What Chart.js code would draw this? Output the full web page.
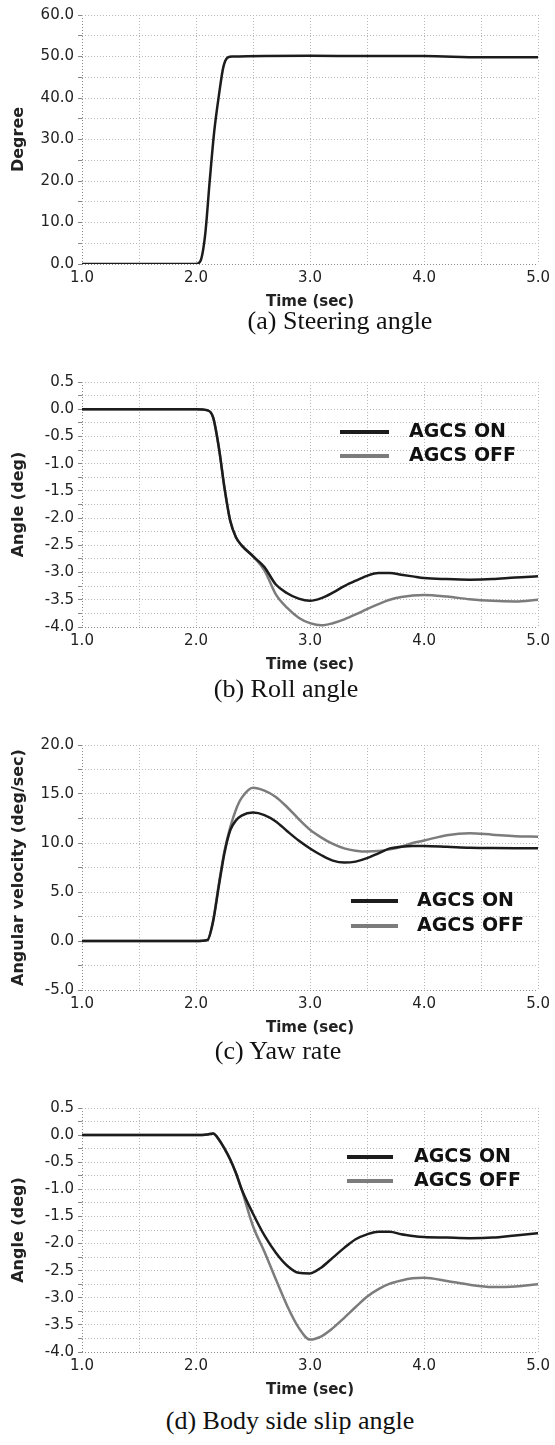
<!DOCTYPE html>
<html lang="en">
<head>
<meta charset="UTF-8">
<title>AGCS vehicle response</title>
<script src="https://cdn.jsdelivr.net/npm/chart.js"></script>
<style>
  body { margin: 0; background: #fff; width: 555px; height: 1445px; position: relative; overflow: hidden; }
  .panel { position: absolute; left: 0; width: 555px; }
  .caption {
    position: absolute;
    font-family: 'Liberation Serif', 'Times New Roman', serif;
    font-size: 26px;
    line-height: 30px;
    color: #111;
    white-space: nowrap;
    transform: translateX(-50%);
  }
</style>
</head>
<body>
<div class="panel" style="top:0px"><canvas id="chartA" width="555" height="314"></canvas></div>
<div class="caption" style="left:340px;top:306px">(a) Steering angle</div>

<div class="panel" style="top:350px"><canvas id="chartB" width="555" height="327"></canvas></div>
<div class="caption" style="left:286px;top:674px">(b) Roll angle</div>

<div class="panel" style="top:715px"><canvas id="chartC" width="555" height="325"></canvas></div>
<div class="caption" style="left:278px;top:1036px">(c) Yaw rate</div>

<div class="panel" style="top:1078px"><canvas id="chartD" width="555" height="324"></canvas></div>
<div class="caption" style="left:290px;top:1406px">(d) Body side slip angle</div>

<script>
// (a) steering input
const steerTime  = [1.0, 1.5, 2.0, 2.04, 2.08, 2.12, 2.16, 2.2, 2.24, 2.28, 2.32, 3.0, 3.5, 4.0, 4.5, 5.0];
const steerAngle = [0, 0, 0, 0.8, 7, 20, 32, 40.5, 47.5, 49.8, 50, 50.2, 50.1, 50.1, 49.8, 49.8];

// (b)-(d) share one time base
const simTime = [1.0, 1.5, 2.0, 2.1, 2.15, 2.2, 2.25, 2.3, 2.35, 2.4, 2.5,
                 2.6, 2.7, 2.8, 2.9, 3.0, 3.1, 3.2, 3.3, 3.4, 3.5,
                 3.6, 3.7, 3.8, 3.9, 4.0, 4.2, 4.4, 4.6, 4.8, 5.0];

const rollOn  = [0, 0, 0, -0.02, -0.15, -0.7, -1.45, -2.05, -2.35, -2.5, -2.7,
                 -2.9, -3.22, -3.38, -3.48, -3.52, -3.47, -3.37, -3.25, -3.15, -3.06,
                 -3.01, -3.01, -3.04, -3.07, -3.1, -3.12, -3.13, -3.12, -3.09, -3.07];
const rollOff = [0, 0, 0, -0.02, -0.15, -0.7, -1.45, -2.05, -2.35, -2.5, -2.7,
                 -2.96, -3.4, -3.65, -3.83, -3.93, -3.97, -3.93, -3.86, -3.77, -3.67,
                 -3.58, -3.5, -3.45, -3.42, -3.41, -3.44, -3.49, -3.52, -3.53, -3.5];

const yawOn  = [0, 0, 0, 0.1, 2.0, 5.6, 9.0, 11.3, 12.3, 12.8, 13.1,
                12.85, 12.2, 11.2, 10.25, 9.44, 8.75, 8.2, 8.0, 8.1, 8.45,
                8.95, 9.45, 9.62, 9.7, 9.7, 9.62, 9.52, 9.48, 9.47, 9.47];
const yawOff = [0, 0, 0, 0.1, 2.1, 5.8, 9.2, 11.6, 13.4, 14.6, 15.65,
                15.35, 14.7, 13.65, 12.45, 11.35, 10.55, 9.9, 9.45, 9.22, 9.13,
                9.18, 9.35, 9.62, 10.0, 10.25, 10.8, 11.0, 10.85, 10.7, 10.65];

const slipOn  = [0, 0, 0, 0.01, 0.03, -0.08, -0.25, -0.45, -0.7, -1.0, -1.45,
                 -1.85, -2.17, -2.41, -2.54, -2.55, -2.44, -2.26, -2.08, -1.92, -1.83,
                 -1.78, -1.78, -1.83, -1.86, -1.88, -1.89, -1.9, -1.89, -1.85, -1.81];
const slipOff = [0, 0, 0, 0.01, 0.03, -0.08, -0.25, -0.45, -0.7, -1.0, -1.68,
                 -2.15, -2.66, -3.15, -3.55, -3.77, -3.71, -3.56, -3.37, -3.17, -2.98,
                 -2.84, -2.74, -2.68, -2.64, -2.63, -2.69, -2.76, -2.8, -2.79, -2.75];

const labelOn = 'AGCS ON';
const labelOff = 'AGCS OFF';
const colorOn = '#1c1c1c';
const colorOff = '#7c7c7c';

Chart.defaults.font.family = '"DejaVu Sans", sans-serif';
Chart.defaults.color = '#222';

// legend drawn inside the plot area, like the original figure
const insideLegend = {
  id: 'insideLegend',
  afterDatasetsDraw(chart, args, opts) {
    if (!opts.show) return;
    const { ctx, chartArea } = chart;
    ctx.save();
    ctx.font = 'bold 19px "DejaVu Sans"';
    ctx.textBaseline = 'middle';
    chart.data.datasets.forEach((ds, i) => {
      const x = chartArea.left + opts.left;
      const y = chartArea.top + opts.top + i * opts.gap;
      ctx.strokeStyle = ds.borderColor;
      ctx.lineWidth = 4;
      ctx.beginPath();
      ctx.moveTo(x, y);
      ctx.lineTo(x + opts.length, y);
      ctx.stroke();
      ctx.fillStyle = '#111';
      ctx.fillText(ds.label, x + opts.length + opts.space, y);
    });
    ctx.restore();
  }
};

function isMajor(v, major) {
  return Math.abs(v / major - Math.round(v / major)) < 1e-6;
}

function makeChart(id, cfg) {
  const datasets = cfg.series.map(s => ({
    label: s.label,
    data: cfg.time.map((t, i) => ({ x: t, y: s.values[i] })),
    borderColor: s.color,
    borderWidth: 2.5,
    pointRadius: 0,
    cubicInterpolationMode: 'monotone',
    fill: false
  }));

  return new Chart(document.getElementById(id), {
    type: 'line',
    data: { datasets },
    plugins: [insideLegend],
    options: {
      responsive: false,
      animation: false,
      layout: { padding: { top: cfg.padTop, right: 16, left: 0, bottom: 0 } },
      plugins: {
        legend: { display: false },
        tooltip: { enabled: false },
        insideLegend: cfg.legend || { show: false }
      },
      scales: {
        x: {
          type: 'linear',
          min: 1, max: 5,
          afterFit: s => { s.height = 50; },
          ticks: {
            stepSize: 0.5,
            autoSkip: false,
            maxRotation: 0,
            padding: 5,
            font: { size: 15 },
            callback: v => isMajor(v, 1) ? v.toFixed(1) : ''
          },
          grid: {
            drawTicks: false,
            color: c => c.index === 0 ? '#8a8a8a' : '#b8b8b8'
          },
          border: { display: false, dash: [1, 2] },
          title: {
            display: true,
            text: 'Time (sec)',
            font: { size: 15, weight: 'bold' },
            padding: { top: 0, bottom: 3 }
          }
        },
        y: {
          min: cfg.yMin, max: cfg.yMax,
          afterFit: s => { s.width = 82; },
          ticks: {
            stepSize: cfg.yMajor / 2,
            autoSkip: false,
            padding: 4,
            font: { size: 15 },
            callback: v => {
              if (!isMajor(v, cfg.yMajor)) return '';
              return (Math.abs(v) < 1e-9 ? 0 : v).toFixed(1);
            }
          },
          grid: {
            drawTicks: true,
            tickLength: 4,
            tickColor: '#888',
            color: c => c.index === 0 ? '#8a8a8a' : '#b8b8b8'
          },
          border: { display: false, dash: [1, 2] },
          title: {
            display: true,
            text: cfg.yTitle,
            font: { size: 16, weight: 'bold' },
            padding: { top: 9, bottom: 0 }
          }
        }
      }
    }
  });
}

makeChart('chartA', {
  time: steerTime,
  series: [{ label: 'Steering angle', values: steerAngle, color: '#1c1c1c' }],
  yMin: 0, yMax: 60, yMajor: 10, yTitle: 'Degree', padTop: 15
});

makeChart('chartB', {
  time: simTime,
  series: [
    { label: labelOn, values: rollOn, color: colorOn },
    { label: labelOff, values: rollOff, color: colorOff }
  ],
  yMin: -4, yMax: 0.5, yMajor: 0.5, yTitle: 'Angle (deg)', padTop: 32,
  legend: { show: true, left: 258, top: 50, gap: 24, length: 49, space: 20 }
});

makeChart('chartC', {
  time: simTime,
  series: [
    { label: labelOn, values: yawOn, color: colorOn },
    { label: labelOff, values: yawOff, color: colorOff }
  ],
  yMin: -5, yMax: 20, yMajor: 5, yTitle: 'Angular velocity (deg/sec)', padTop: 30,
  legend: { show: true, left: 269, top: 156, gap: 25, length: 47, space: 19 }
});

makeChart('chartD', {
  time: simTime,
  series: [
    { label: labelOn, values: slipOn, color: colorOn },
    { label: labelOff, values: slipOff, color: colorOff }
  ],
  yMin: -4, yMax: 0.5, yMajor: 0.5, yTitle: 'Angle (deg)', padTop: 30,
  legend: { show: true, left: 265, top: 49, gap: 24, length: 46, space: 21 }
});
</script>
</body>
</html>
